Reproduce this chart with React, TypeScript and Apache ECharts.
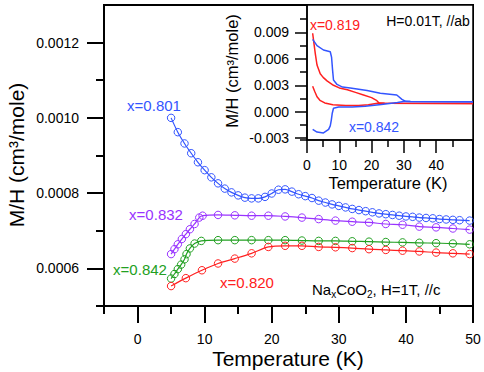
import React, { useEffect, useRef } from "react";
import * as echarts from "echarts";

const FONT = "'Liberation Sans', Arial, Helvetica, sans-serif";

const BLUE = "#3355ff";
const PURPLE = "#9933ff";
const GREEN = "#22a022";
const RED = "#ff2020";

// ---- main panel (H = 1 T, //c) ----
const tempBlue = [5, 6, 7, 8, 9, 10, 11, 12, 13, 14, 15, 16, 17, 18, 19, 20, 21, 22, 23, 24, 25, 26, 27, 28, 29, 30, 31, 32, 33, 34, 35, 36, 37, 38, 39, 40, 41, 42, 43, 44, 45, 46, 47, 48, 49.5];
const mhBlue = [0.001, 0.000962, 0.000932, 0.000906, 0.000882, 0.000861, 0.000842, 0.000826, 0.000812, 0.000802, 0.000794, 0.000788, 0.000786, 0.000786, 0.00079, 0.000799, 0.000809, 0.00081, 0.000804, 0.000797, 0.000792, 0.000787, 0.00078, 0.000775, 0.00077, 0.000766, 0.000762, 0.000758, 0.000755, 0.000752, 0.000749, 0.000746, 0.000744, 0.000742, 0.00074, 0.000738, 0.000737, 0.000735, 0.000734, 0.000733, 0.000731, 0.00073, 0.000729, 0.000728, 0.000727];

const tempPurple = [5, 5.5, 6, 6.6, 7.2, 7.8, 8.5, 9.2, 9.7, 12, 14.5, 17, 19.5, 22, 24.5, 27, 29.5, 32, 34.5, 37, 39.5, 42, 44.5, 47, 49.5];
const mhPurple = [0.000638, 0.000651, 0.000664, 0.000678, 0.000691, 0.000704, 0.000718, 0.000735, 0.00074, 0.000742, 0.000741, 0.00074, 0.00074, 0.000738, 0.000735, 0.000731, 0.000727, 0.000724, 0.000722, 0.000718, 0.000716, 0.000711, 0.000709, 0.000706, 0.000703];

const tempGreen = [5, 5.5, 6, 6.5, 7, 7.3, 7.8, 8.5, 9.5, 12, 14.5, 17, 19.5, 22, 24.5, 27, 29.5, 32, 34.5, 37, 39.5, 42, 44.5, 47, 49.5];
const mhGreen = [0.000573, 0.000585, 0.000598, 0.00061, 0.000624, 0.000638, 0.000653, 0.000666, 0.000673, 0.000675, 0.000675, 0.000675, 0.000675, 0.000675, 0.000674, 0.000673, 0.000673, 0.000672, 0.000671, 0.00067, 0.000669, 0.000668, 0.000667, 0.000666, 0.000664];

const tempRed = [5, 7.2, 9.6, 12, 14.5, 17, 19.5, 22, 24.5, 27, 29.5, 32, 34.5, 37, 39.5, 42, 44.5, 47, 49.5];
const mhRed = [0.000553, 0.000574, 0.000595, 0.000613, 0.000626, 0.00064, 0.000657, 0.00066, 0.00066, 0.000657, 0.000656, 0.000654, 0.000651, 0.000649, 0.000647, 0.000645, 0.000642, 0.00064, 0.000638];

const mainXMajor = [0, 10, 20, 30, 40, 50];
const mainXMinor = [-5, 5, 15, 25, 35, 45];
const mainYMajor = [0.0006, 0.0008, 0.001, 0.0012];
const mainYMinor = [0.0005, 0.0007, 0.0009, 0.0011];

// ---- inset (H = 0.01 T, //ab) ----
const tempRedFC = [1.75, 2.2, 2.6, 3.1, 4.1, 5, 6.2, 8.2, 10, 12.5, 15, 17.5, 20, 21.5, 22.3, 24, 51.4];
const mhRedFC = [0.0089, 0.0076, 0.0065, 0.0053, 0.0043, 0.0039, 0.0035, 0.003, 0.0027, 0.0025, 0.0022, 0.0019, 0.0016, 0.0013, 0.001, 0.00096, 0.00093];
const tempRedZFC = [1.75, 2.4, 3.1, 4, 5.5, 8, 12, 16, 19, 22.3, 24, 51.4];
const mhRedZFC = [0.0029, 0.0023, 0.0017, 0.0013, 0.001, 0.0008, 0.0007, 0.0007, 0.0008, 0.001, 0.00096, 0.00093];
const tempBlueFC = [1.75, 3.1, 5.1, 7.2, 7.6, 7.9, 8.2, 9.3, 11, 13.4, 18.6, 22.7, 27.8, 29.4, 30.4, 32, 51.4];
const mhBlueFC = [0.0082, 0.0075, 0.007, 0.0068, 0.0062, 0.0048, 0.0036, 0.0031, 0.0028, 0.0027, 0.0024, 0.0021, 0.0019, 0.0014, 0.0012, 0.00115, 0.00113];
const tempBlueZFC = [1.75, 3.1, 5.1, 6.7, 7.2, 7.5, 7.8, 8.2, 9.8, 14, 18, 23, 28, 30.4, 32, 51.4];
const mhBlueZFC = [-0.002, -0.0023, -0.0024, -0.002, -0.0016, -0.001, -0.0002, 0.0004, 0.00055, 0.00055, 0.00062, 0.00083, 0.00105, 0.0012, 0.00115, 0.00113];

const insetXMajor = [0, 10, 20, 30, 40];
const insetXMinor = [5, 15, 25, 35, 45];
const insetYMajor = [-0.003, 0, 0.003, 0.006, 0.009];
const insetYMinor = [-0.0032, -0.0015, 0.0015, 0.0045, 0.0075, 0.0105];

const pairs = (xs: number[], ys: number[]) => xs.map((x, i) => [x, ys[i]]);

const axisBase = (grid: number, min: number, max: number) => ({
  type: "value" as const,
  gridIndex: grid,
  min,
  max,
  splitLine: { show: false },
});

function buildOption() {
  const black = "#000";
  const line = (show: boolean, width: number) => ({ show, onZero: false, lineStyle: { color: black, width } });
  const mainSeries = (name: string, xs: number[], ys: number[], color: string) => ({
    name,
    type: "line",
    xAxisIndex: 0,
    yAxisIndex: 0,
    data: pairs(xs, ys),
    smooth: 0.3,
    symbol: "circle",
    symbolSize: 7.5,
    itemStyle: { color: "rgba(0,0,0,0)", borderColor: color, borderWidth: 1 },
    lineStyle: { color, width: 1.2 },
    z: 3,
  });
  const insetSeries = (name: string, xs: number[], ys: number[], color: string) => ({
    name,
    type: "line",
    xAxisIndex: 2,
    yAxisIndex: 2,
    data: pairs(xs, ys),
    smooth: false,
    showSymbol: false,
    symbol: "none",
    lineStyle: { color, width: 1.5 },
    z: 5,
  });
  const txt = (x: number, y: number, text: string, color: string, size: number, extra: any = {}) => ({
    type: "text",
    x,
    y,
    z: 100,
    style: {
      text,
      fill: color,
      fontSize: size,
      fontFamily: FONT,
      align: "center",
      verticalAlign: "middle",
    },
    ...extra,
  });

  return {
    animation: false,
    textStyle: { fontFamily: FONT },
    grid: [
      { left: 104, right: 11, top: 5, bottom: 66, show: true, borderColor: black, borderWidth: 2, backgroundColor: "transparent" },
      { left: 307, right: 11, top: 5, bottom: 232, show: true, borderColor: black, borderWidth: 1.5, backgroundColor: "#fff", z: 4 },
    ],
    xAxis: [
      {
        ...axisBase(0, -5, 50),
        position: "bottom",
        axisLine: line(true, 2),
        axisTick: { show: true, customValues: mainXMajor, length: 17, lineStyle: { color: black, width: 2 } },
        axisLabel: { show: true, customValues: mainXMajor, margin: 26, fontSize: 14, color: black, fontFamily: FONT },
      },
      {
        ...axisBase(0, -5, 50),
        position: "bottom",
        axisLine: line(false, 2),
        axisTick: { show: true, customValues: mainXMinor, length: 8, lineStyle: { color: black, width: 2 } },
        axisLabel: { show: false },
      },
      {
        ...axisBase(1, 0, 51.4),
        position: "bottom",
        z: 6,
        axisLine: line(true, 1.5),
        axisTick: { show: true, customValues: insetXMajor, length: 13, lineStyle: { color: black, width: 1.5 } },
        axisLabel: { show: true, customValues: insetXMajor, margin: 18, fontSize: 14, color: black, fontFamily: FONT },
      },
      {
        ...axisBase(1, 0, 51.4),
        position: "bottom",
        z: 6,
        axisLine: line(false, 1.5),
        axisTick: { show: true, customValues: insetXMinor, length: 7, lineStyle: { color: black, width: 1.5 } },
        axisLabel: { show: false },
      },
    ],
    yAxis: [
      {
        ...axisBase(0, 0.0005, 0.0013),
        position: "left",
        axisLine: line(true, 2),
        axisTick: { show: true, customValues: mainYMajor, length: 17, lineStyle: { color: black, width: 2 } },
        axisLabel: {
          show: true,
          customValues: mainYMajor,
          margin: 25,
          fontSize: 14,
          color: black,
          fontFamily: FONT,
          formatter: (v: number) => v.toFixed(4),
        },
      },
      {
        ...axisBase(0, 0.0005, 0.0013),
        position: "left",
        axisLine: line(false, 2),
        axisTick: { show: true, customValues: mainYMinor, length: 8, lineStyle: { color: black, width: 2 } },
        axisLabel: { show: false },
      },
      {
        ...axisBase(1, -0.0032, 0.0121),
        position: "left",
        z: 6,
        axisLine: line(true, 1.5),
        axisTick: { show: true, customValues: insetYMajor, length: 12, lineStyle: { color: black, width: 1.5 } },
        axisLabel: {
          show: true,
          customValues: insetYMajor,
          margin: 18,
          fontSize: 14,
          color: black,
          fontFamily: FONT,
          formatter: (v: number) => v.toFixed(3),
        },
      },
      {
        ...axisBase(1, -0.0032, 0.0121),
        position: "left",
        z: 6,
        axisLine: line(false, 1.5),
        axisTick: { show: true, customValues: insetYMinor, length: 7, lineStyle: { color: black, width: 1.5 } },
        axisLabel: { show: false },
      },
    ],
    series: [
      mainSeries("x=0.801", tempBlue, mhBlue, BLUE),
      mainSeries("x=0.832", tempPurple, mhPurple, PURPLE),
      mainSeries("x=0.842", tempGreen, mhGreen, GREEN),
      mainSeries("x=0.820", tempRed, mhRed, RED),
      insetSeries("x=0.819 ZFC", tempRedZFC, mhRedZFC, RED),
      insetSeries("x=0.819 FC", tempRedFC, mhRedFC, RED),
      insetSeries("x=0.842 ZFC", tempBlueZFC, mhBlueZFC, BLUE),
      insetSeries("x=0.842 FC", tempBlueFC, mhBlueFC, BLUE),
    ],
    graphic: [
      txt(288, 358, "Temperature (K)", black, 21),
      txt(16, 155, "M/H (cm³/mole)", black, 21, { rotation: Math.PI / 2 }),
      txt(388, 183, "Temperature (K)", black, 16.5),
      txt(232, 71, "M/H (cm³/mole)", black, 16.5, { rotation: Math.PI / 2 }),
      txt(154, 105, "x=0.801", BLUE, 15),
      txt(156, 214, "x=0.832", PURPLE, 15),
      txt(140, 269, "x=0.842", GREEN, 15),
      txt(247, 282, "x=0.820", RED, 15),
      txt(335, 25, "x=0.819", RED, 14),
      txt(428, 21, "H=0.01T, //ab", black, 14),
      txt(374, 127, "x=0.842", BLUE, 14),
      {
        type: "text",
        x: 312,
        y: 289,
        z: 100,
        style: {
          text: "{a|Na}{s|x}{a|CoO}{s|2}{a|, H=1T, //c}",
          align: "left",
          verticalAlign: "middle",
          rich: {
            a: { fontSize: 15, fontFamily: FONT, fill: black, lineHeight: 20 },
            s: { fontSize: 10, fontFamily: FONT, fill: black, lineHeight: 8, verticalAlign: "bottom" },
          },
        },
      },
    ],
  };
}

export default function App() {
  const ref = useRef<HTMLDivElement>(null);
  useEffect(() => {
    document.body.style.margin = "0";
    const chart = echarts.init(ref.current!, null, { renderer: "svg" });
    chart.setOption(buildOption() as any);
    return () => chart.dispose();
  }, []);
  return (
    <div
      ref={ref}
      style={{ position: "fixed", left: 0, top: 0, width: 484, height: 372, background: "#fff" }}
    />
  );
}
